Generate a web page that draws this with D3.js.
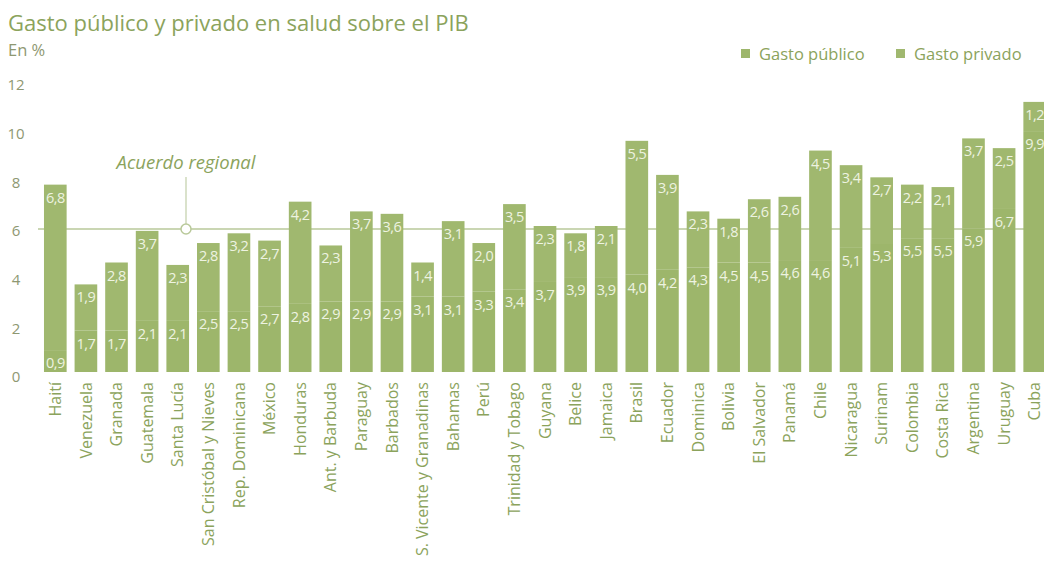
<!DOCTYPE html>
<html>
<head>
<meta charset="utf-8">
<script src="https://cdn.jsdelivr.net/npm/d3@7"></script>
<style>
  html, body { margin: 0; padding: 0; background: #ffffff; }
  svg { display: block; font-family: "Open Sans", "Noto Sans", sans-serif; }
</style>
</head>
<body>
<svg id="chart" width="1044" height="565"></svg>
<script>
const countries = ["Haití","Venezuela","Granada","Guatemala","Santa Lucía","San Cristóbal y Nieves","Rep. Dominicana","México","Honduras","Ant. y Barbuda","Paraguay","Barbados","S. Vicente y Granadinas","Bahamas","Perú","Trinidad y Tobago","Guyana","Belice","Jamaica","Brasil","Ecuador","Dominica","Bolivia","El Salvador","Panamá","Chile","Nicaragua","Surinam","Colombia","Costa Rica","Argentina","Uruguay","Cuba"];
const publicSpend  = [0.9,1.7,1.7,2.1,2.1,2.5,2.5,2.7,2.8,2.9,2.9,2.9,3.1,3.1,3.3,3.4,3.7,3.9,3.9,4.0,4.2,4.3,4.5,4.5,4.6,4.6,5.1,5.3,5.5,5.5,5.9,6.7,9.9];
const privateSpend = [6.8,1.9,2.8,3.7,2.3,2.8,3.2,2.7,4.2,2.3,3.7,3.6,1.4,3.1,2.0,3.5,2.3,1.8,2.1,5.5,3.9,2.3,1.8,2.6,2.6,4.5,3.4,2.7,2.2,2.1,3.7,2.5,1.2];
const yTicks = [0,2,4,6,8,10,12];
const regionalTarget = 6;
const seriesNames = ["Gasto público","Gasto privado"];

const svg = d3.select("#chart");
const colPublic = "#9db66b";
const colPrivate = "#a0b86f";
const textGreen = "#8ba35c";
const axisGray = "#8e9872";

const x = d3.scaleBand().domain(countries).range([40, 1050]).paddingInner(0.26).paddingOuter(0.13);
const y = d3.scaleLinear().domain([0, 12]).range([372, 80]);

// Title
svg.append("text").attr("x", 8).attr("y", 31).attr("font-size", 22).attr("fill", textGreen)
  .text("Gasto público y privado en salud sobre el PIB");
svg.append("text").attr("x", 8).attr("y", 56).attr("font-size", 16.5).attr("fill", axisGray)
  .text("En %");

// Legend
const legend = svg.append("g");
const legX = [741, 896];
seriesNames.forEach((n, i) => {
  legend.append("rect").attr("x", legX[i]).attr("y", 49).attr("width", 9).attr("height", 9)
    .attr("fill", i === 0 ? colPublic : colPrivate);
  legend.append("text").attr("x", legX[i] + 18).attr("y", 60).attr("font-size", 16.5)
    .attr("fill", textGreen).text(n);
});

// Y axis labels
const yAxis = d3.axisLeft(y).tickValues(yTicks).tickSize(0).tickFormat(d3.format("d"));
const gy = svg.append("g").attr("transform", "translate(22,5)").call(yAxis);
gy.select(".domain").remove();
gy.selectAll("text").attr("font-size", 15).attr("fill", axisGray)
  .attr("font-family", "'Open Sans', sans-serif").attr("text-anchor", "middle").attr("x", -6);

// Regional line (behind bars)
svg.append("line").attr("x1", 38).attr("x2", 1044).attr("y1", y(regionalTarget) + 3).attr("y2", y(regionalTarget) + 3)
  .attr("stroke", "#b9c99a").attr("stroke-width", 1.5);

// Bars
const bars = svg.append("g");
const fmt = v => v.toFixed(1).replace(".", ",");
countries.forEach((c, i) => {
  const x0 = x(c), w = x.bandwidth();
  const p = publicSpend[i], q = privateSpend[i];
  bars.append("rect").attr("x", x0).attr("width", w).attr("y", y(p)).attr("height", y(0) - y(p)).attr("fill", colPublic);
  bars.append("rect").attr("x", x0).attr("width", w).attr("y", y(p + q)).attr("height", y(0) - y(q)).attr("fill", colPrivate);
  bars.append("text").attr("x", x0 + w / 2).attr("y", Math.min(y(p) + 18, 370)).attr("text-anchor", "middle")
    .attr("font-size", 14.5).attr("letter-spacing", -0.5).attr("fill", "#eef3e1").text(fmt(p));
  bars.append("text").attr("x", x0 + w / 2).attr("y", y(p + q) + 18).attr("text-anchor", "middle")
    .attr("font-size", 14.5).attr("letter-spacing", -0.5).attr("fill", "#eef3e1").text(fmt(q));
});

// Annotation
const ax = 186, ay = y(regionalTarget) + 3;
svg.append("line").attr("x1", ax).attr("x2", ax).attr("y1", 177).attr("y2", ay).attr("stroke", "#c2cfa8").attr("stroke-width", 1.2);
svg.append("circle").attr("cx", ax).attr("cy", ay).attr("r", 5).attr("fill", "#ffffff").attr("stroke", "#b9c99a").attr("stroke-width", 1.5);
svg.append("text").attr("x", ax).attr("y", 169).attr("text-anchor", "middle").attr("font-size", 18.5)
  .attr("font-style", "italic").attr("fill", textGreen).text("Acuerdo regional");

// X axis labels
const xAxis = d3.axisBottom(x).tickSize(0);
const gx = svg.append("g").attr("transform", "translate(0,378)").call(xAxis);
gx.select(".domain").remove();
gx.selectAll("text").attr("font-size", 16).attr("fill", textGreen)
  .attr("font-family", "'Open Sans', sans-serif")
  .attr("transform", "rotate(-90)").attr("text-anchor", "end").attr("x", -4).attr("y", 0).attr("dy", "0.35em");
</script>
</body>
</html>
